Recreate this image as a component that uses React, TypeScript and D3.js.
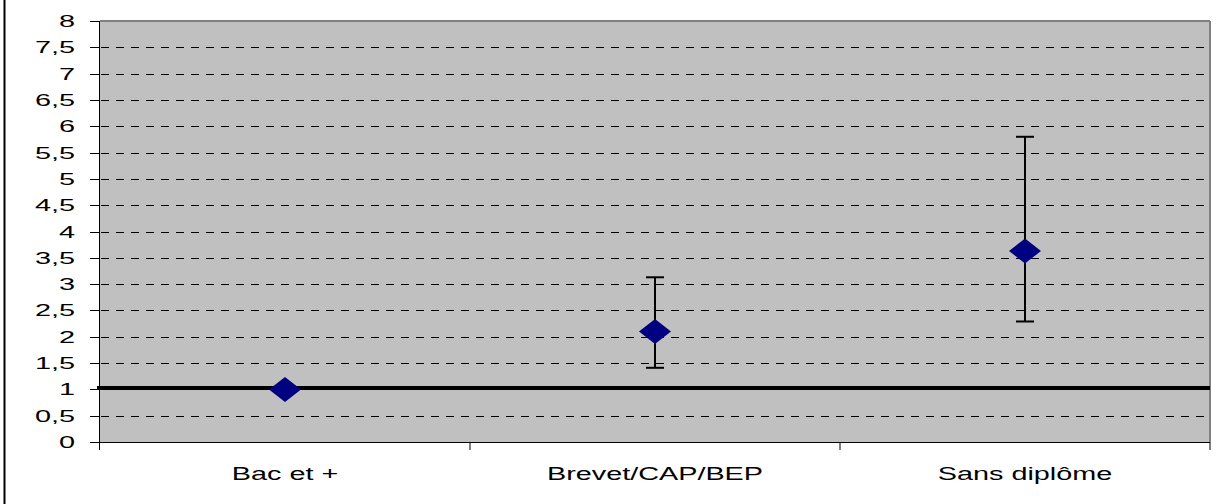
import React from "react";
import * as d3 from "d3";

const categories = ["Bac et +", "Brevet/CAP/BEP", "Sans diplôme"];
const values = [1, 2.1, 3.63];
const lowerBounds = [1, 1.41, 2.29];
const upperBounds = [1, 3.13, 5.8];
const yTicks = [0, 0.5, 1, 1.5, 2, 2.5, 3, 3.5, 4, 4.5, 5, 5.5, 6, 6.5, 7, 7.5, 8];
const referenceValue = 1;

const W = 1220;
const H = 504;
const left = 100;
const right = 1210;
const top = 21;
const bottom = 442;

export default function App() {
  const x = d3.scaleBand<string>().domain(categories).range([left, right]);
  const y = d3.scaleLinear().domain([0, 8]).range([bottom, top]);
  const fmt = (v: number) => String(v).replace(".", ",");
  const font = "'Liberation Sans', Arial, sans-serif";
  const diamond = d3.symbol().type(d3.symbolDiamond).size(1)();
  const dw = 16, dh = 12.5;
  return (
    <svg width={W} height={H} style={{ position: "absolute", left: 0, top: 0, background: "#fff" }}>
      <line x1={4.5} x2={4.5} y1={0} y2={H} stroke="#000" strokeWidth={2} />
      <rect x={left} y={top} width={right - left} height={bottom - top} fill="#C0C0C0" />
      {yTicks.filter((t) => t > 0 && t < 8).map((t) => (
        <line key={"g" + t} x1={left + 1} x2={right} y1={Math.round(y(t)) + 0.5} y2={Math.round(y(t)) + 0.5}
          stroke="#000" strokeWidth={1} strokeDasharray="8,7" />
      ))}
      <line x1={left} x2={right} y1={top} y2={top} stroke="#808080" strokeWidth={2} />
      <line x1={right} x2={right} y1={top} y2={bottom} stroke="#808080" strokeWidth={2} />
      <line x1={left - 0.5} x2={left - 0.5} y1={top} y2={bottom + 8} stroke="#000" strokeWidth={1} />
      <line x1={left} x2={right} y1={bottom + 0.5} y2={bottom + 0.5} stroke="#000" strokeWidth={1} />
      {yTicks.map((t) => (
        <g key={"t" + t}>
          <line x1={left - 10} x2={left} y1={Math.round(y(t)) + 0.5} y2={Math.round(y(t)) + 0.5} stroke="#000" strokeWidth={1} />
          <text transform={`translate(75,${y(t) + 6}) scale(1.75,1)`} textAnchor="end" fontFamily={font} fontSize={16.5} fill="#000">
            {fmt(t)}
          </text>
        </g>
      ))}
      {categories.map((c, i) => (
        <line key={"ct" + i} x1={x(c)! + x.bandwidth()} x2={x(c)! + x.bandwidth()} y1={bottom} y2={bottom + 8} stroke="#000" strokeWidth={1} />
      ))}
      {categories.map((c) => (
        <text key={"cl" + c} transform={`translate(${x(c)! + x.bandwidth() / 2},480) scale(1.6,1)`} textAnchor="middle"
          fontFamily={font} fontSize={18} fill="#000">
          {c}
        </text>
      ))}
      <line x1={left - 3} x2={right} y1={y(referenceValue) - 1.5} y2={y(referenceValue) - 1.5} stroke="#000" strokeWidth={4} />
      {categories.map((c, i) => {
        const cx = x(c)! + x.bandwidth() / 2;
        if (upperBounds[i] === lowerBounds[i]) return null;
        return (
          <g key={"e" + c} stroke="#000" strokeWidth={2}>
            <line x1={cx} x2={cx} y1={y(upperBounds[i])} y2={y(lowerBounds[i])} />
            <line x1={cx - 9} x2={cx + 9} y1={y(upperBounds[i])} y2={y(upperBounds[i])} />
            <line x1={cx - 9} x2={cx + 9} y1={y(lowerBounds[i])} y2={y(lowerBounds[i])} />
          </g>
        );
      })}
      {categories.map((c, i) => {
        const cx = x(c)! + x.bandwidth() / 2;
        const cy = y(values[i]);
        return (
          <path key={"d" + c} d={`M${cx},${cy - dh}L${cx + dw},${cy}L${cx},${cy + dh}L${cx - dw},${cy}Z`} fill="#000080" />
        );
      })}
    </svg>
  );
}
